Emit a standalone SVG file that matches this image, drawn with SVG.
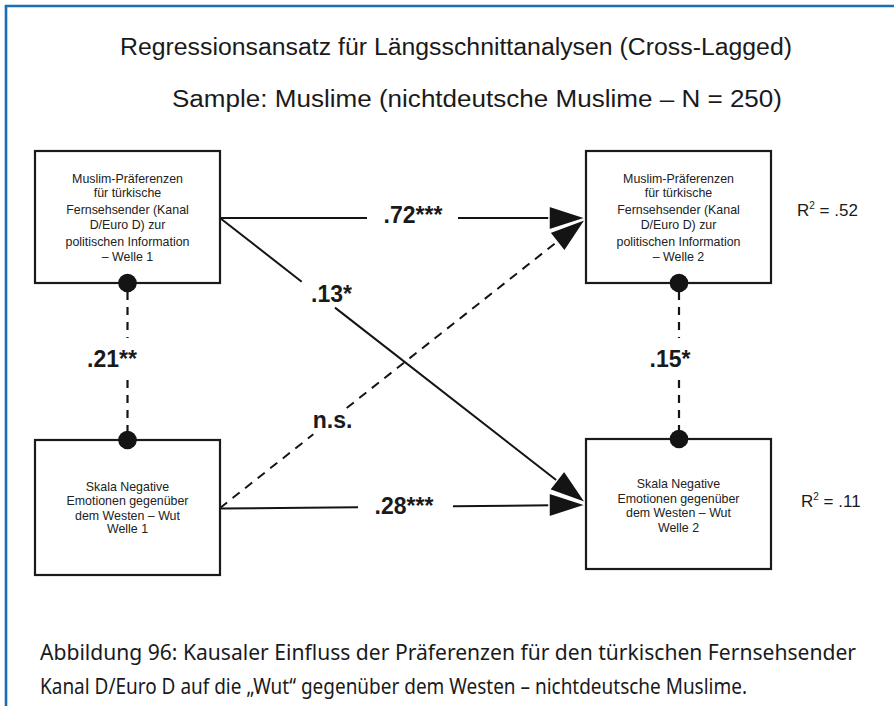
<svg xmlns="http://www.w3.org/2000/svg" width="894" height="706" viewBox="0 0 894 706">
<style>
.frame{fill:none;stroke:#1c6cb6;stroke-width:2.6}
.title{font-family:"Liberation Sans",Arial,sans-serif;font-size:23px;fill:#1a1a1a;text-anchor:middle}
.box{fill:#fff;stroke:#1a1a1a;stroke-width:2.2}
.nt{font-family:"Liberation Sans",Arial,sans-serif;font-size:12.4px;fill:#222;text-anchor:middle}
.dot{fill:#141414}
.ln{stroke:#141414;stroke-width:2;fill:none}
.dash{stroke:#141414;stroke-width:2;fill:none;stroke-dasharray:9 7}
.vdash{stroke:#141414;stroke-width:2.2;fill:none;stroke-dasharray:8 7}
.head{fill:#141414;stroke:#fff;stroke-width:1.5;stroke-linejoin:miter}
.lbl{font-family:"Liberation Sans",Arial,sans-serif;font-size:23px;font-weight:bold;fill:#1a1a1a;text-anchor:middle}
.r2{font-family:"Liberation Sans",Arial,sans-serif;font-size:17px;fill:#1a1a1a}
.cap{font-family:"Noto Sans","Open Sans",sans-serif;font-size:21px;fill:#1a1a1a}
</style>
<rect width="894" height="706" fill="#fff"/>
<path class="frame" d="M6 706 V6 H894"/>
<text class="title" x="456" y="55" textLength="672" lengthAdjust="spacingAndGlyphs">Regressionsansatz für Längsschnittanalysen (Cross-Lagged)</text>
<text class="title" x="477" y="107" textLength="610" lengthAdjust="spacingAndGlyphs">Sample: Muslime (nichtdeutsche Muslime – N = 250)</text>

<g id="connectors">
  <line class="ln" x1="220" y1="218" x2="367" y2="218"/>
  <line class="ln" x1="458" y1="218" x2="552" y2="218"/>
  <polygon class="head" points="586,218 549,206 549,230"/>
  <line class="ln" x1="220" y1="218" x2="301.7" y2="281.7"/>
  <line class="ln" x1="335" y1="307.6" x2="560" y2="483"/>
  <polygon class="head" points="586,503 549.4,489.8 564.2,470.8"/>
  <line class="dash" x1="220" y1="508" x2="313.3" y2="434.3"/>
  <line class="dash" x1="346.7" y1="408" x2="558" y2="241"/>
  <polygon class="head" points="586,219 564.4,251.3 549.6,232.5"/>
  <line class="ln" x1="220" y1="508.5" x2="358" y2="507.2"/>
  <line class="ln" x1="453" y1="506.3" x2="552" y2="505.3"/>
  <polygon class="head" points="586,505 549,493 549,517"/>
  <line class="vdash" x1="127.5" y1="292" x2="127.5" y2="338"/>
  <line class="vdash" x1="127.5" y1="380" x2="127.5" y2="432"/>
  <line class="vdash" x1="679" y1="292" x2="679" y2="338"/>
  <line class="vdash" x1="679" y1="380" x2="679" y2="432"/>
  <text class="lbl" x="413" y="223">.72***</text>
  <text class="lbl" x="331.5" y="302">.13*</text>
  <text class="lbl" x="332.5" y="428">n.s.</text>
  <text class="lbl" x="404" y="514">.28***</text>
  <text class="lbl" x="112" y="367">.21**</text>
  <text class="lbl" x="670" y="367">.15*</text>
</g>

<g id="n_tl">
  <rect class="box" x="35" y="151" width="185" height="132"/>
  <text class="nt" x="127.5" y="183">Muslim-Präferenzen</text>
  <text class="nt" x="127.5" y="197">für türkische</text>
  <text class="nt" x="127.5" y="214">Fernsehsender (Kanal</text>
  <text class="nt" x="127.5" y="229">D/Euro D) zur</text>
  <text class="nt" x="127.5" y="246">politischen Information</text>
  <text class="nt" x="127.5" y="261">– Welle 1</text>
  <circle class="dot" cx="127.5" cy="283" r="9.3"/>
</g>

<g id="n_tr">
  <rect class="box" x="586" y="151" width="185" height="132"/>
  <text class="nt" x="678.5" y="183">Muslim-Präferenzen</text>
  <text class="nt" x="678.5" y="197">für türkische</text>
  <text class="nt" x="678.5" y="214">Fernsehsender (Kanal</text>
  <text class="nt" x="678.5" y="229">D/Euro D) zur</text>
  <text class="nt" x="678.5" y="246">politischen Information</text>
  <text class="nt" x="678.5" y="261">– Welle 2</text>
  <circle class="dot" cx="679" cy="283" r="9.3"/>
  <text class="r2" x="797" y="216">R<tspan font-size="10" dy="-7">2</tspan><tspan dy="7"> = .52</tspan></text>
</g>

<g id="n_bl">
  <rect class="box" x="35" y="440" width="185" height="135"/>
  <text class="nt" x="127.5" y="491">Skala Negative</text>
  <text class="nt" x="127.5" y="505">Emotionen gegenüber</text>
  <text class="nt" x="127.5" y="520">dem Westen – Wut</text>
  <text class="nt" x="127.5" y="533">Welle 1</text>
  <circle class="dot" cx="127.5" cy="440" r="9.3"/>
</g>

<g id="n_br">
  <rect class="box" x="586" y="439" width="185" height="130"/>
  <text class="nt" x="678.5" y="488">Skala Negative</text>
  <text class="nt" x="678.5" y="503">Emotionen gegenüber</text>
  <text class="nt" x="678.5" y="517">dem Westen – Wut</text>
  <text class="nt" x="678.5" y="532">Welle 2</text>
  <circle class="dot" cx="679" cy="439" r="9.3"/>
  <text class="r2" x="801" y="507">R<tspan font-size="10" dy="-7">2</tspan><tspan dy="7"> = .11</tspan></text>
</g>

<text class="cap" x="40" y="660" textLength="816" lengthAdjust="spacingAndGlyphs">Abbildung 96: Kausaler Einfluss der Präferenzen für den türkischen Fernsehsender</text>
<text class="cap" x="40" y="694" textLength="707" lengthAdjust="spacingAndGlyphs">Kanal D/Euro D auf die „Wut“ gegenüber dem Westen – nichtdeutsche Muslime.</text>
</svg>
